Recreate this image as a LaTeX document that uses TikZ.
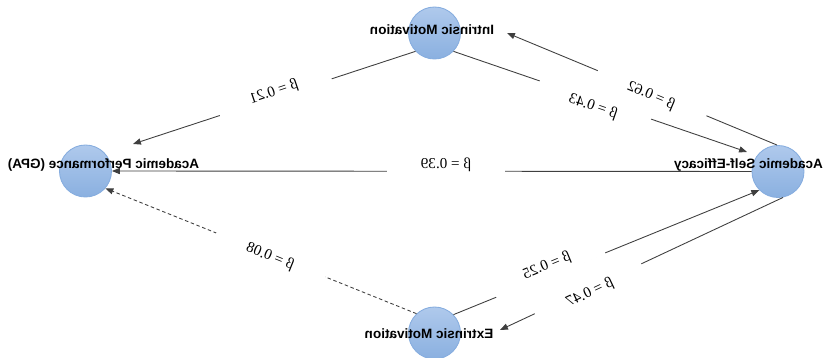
\documentclass[tikz,border=0pt]{standalone}
\usepackage{fontspec}
\setmainfont{Liberation Serif}
\newfontfamily\capfont{Liberation Sans}
\usetikzlibrary{positioning, shapes.geometric, arrows.meta, calc}
\definecolor{linecol}{HTML}{3F3F3F}
\definecolor{circtop}{HTML}{AFC9EC}
\definecolor{circbot}{HTML}{8AB0E0}
\definecolor{circedge}{HTML}{86ADDF}
\tikzset{
  % shaded circle = construct
  construct/.style={circle, top color=circtop, bottom color=circbot,
                    draw=circedge, line width=0.5pt,
                    inner sep=0pt, minimum size=1.04cm},
  % bold caption of a construct
  constcap/.style={font=\capfont\bfseries\fontsize{7.7}{9}\selectfont,
                   inner sep=0pt},
  % path coefficient, white box over its line
  coef/.style={fill=white, inner sep=0pt, minimum width=2.35cm,
               minimum height=0.45cm, font=\fontsize{8.6}{10}\selectfont},
  % regression path
  effect/.style={-{Triangle[length=4.5pt,width=3.5pt]}, draw=linecol,
                 line width=0.5pt},
}

\begin{document}
\begin{tikzpicture}[xscale=-1, transform shape]
  \useasboundingbox (0,0) rectangle (16.56,7.16);
  \node[construct] (se) at (1.00,3.73) {};
  \node[construct] (im) at (7.87,6.50) {};
  \node[construct] (em) at (7.87,0.50) {};
  \node[construct] (ap) at (14.85,3.74) {};
  \node[constcap] (se-cap) at (1.59,3.85) {Academic Self-Efficacy};
  \node[constcap] (im-cap) at (7.92,6.57) {Intrinsic Motivation};
  \node[constcap] (em-cap) at (7.98,0.49) {Extrinsic Motivation};
  \node[constcap] (ap-cap) at (14.49,3.85) {Academic Performance (GPA)};
  % free arrow ends
  \coordinate (ap-in) at (13.90,4.28);
  \coordinate (im-in) at (6.42,6.50);
  \coordinate (se-in) at (1.62,4.12);
  \coordinate (em-in) at (6.56,0.56);
  \draw[effect] (im.-44) -- (ap-in);
  \draw[effect] (se.88) -- (im-in);
  \draw[effect] (im.224) -- (se-in);
  \draw[effect] (se) -- (ap);
  \draw[effect, dash pattern=on 2pt off 1.5pt] (em.47) -- (ap.221);
  \draw[effect] (em.136) -- (se.-45);
  \draw[effect] (se.259) -- (em-in);
  % coefficients
  \foreach \nm/\x/\y/\ang/\val in {b21/11.08/5.32/-18.6/0.21,
      b62/3.54/5.24/22.9/0.62, b43/4.70/5.02/19.0/0.43,
      b39/7.64/3.86/0/0.39, b08/11.16/2.02/22.1/0.08,
      b25/5.62/1.84/-22.4/0.25, b47/4.76/1.30/-25.3/0.47}
    \node[coef, rotate=\ang] (\nm) at (\x,\y) {β = \val};
\end{tikzpicture}
\end{document}
